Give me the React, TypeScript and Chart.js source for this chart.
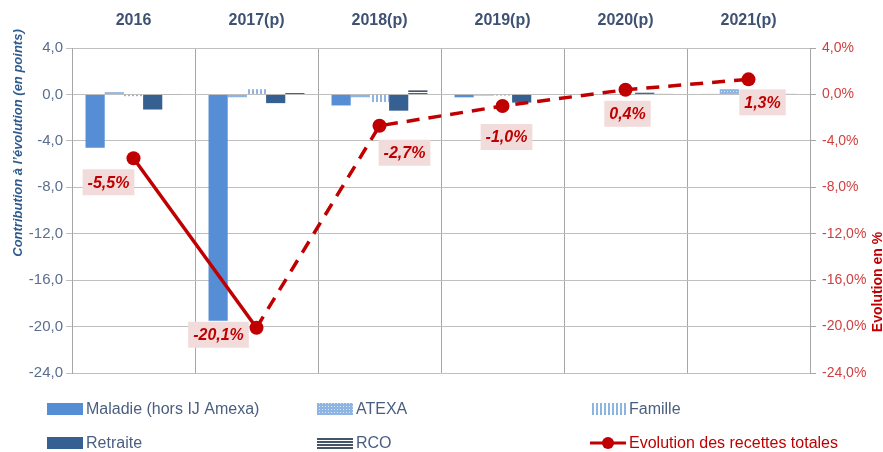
import React, { useEffect, useRef } from "react";
import { Chart, registerables } from "chart.js";

Chart.register(...registerables);

const categories = ["2016", "2017(p)", "2018(p)", "2019(p)", "2020(p)", "2021(p)"];
const maladie = [-4.6, -19.5, -0.95, -0.25, 0.0, 0.05];
const atexa = [0.2, -0.25, -0.25, -0.1, 0.0, 0.45];
const famille = [-0.15, 0.45, -0.65, -0.1, 0.0, 0.0];
const retraite = [-1.3, -0.75, -1.4, -0.7, 0.15, 0.0];
const rco = [-0.1, 0.2, 0.35, 0.0, 0.05, 0.05];
const evolution = [-5.5, -20.1, -2.7, -1.0, 0.4, 1.3];
const yTicks = [4, 0, -4, -8, -12, -16, -20, -24];

const FONT = "'Liberation Sans', Arial, sans-serif";
const RED = "#C00000";
const SLATE = "#4A5E80";
const labelOffsets = [
  [-25, 24],
  [-38, 7],
  [25, 27],
  [4, 31],
  [2, 24],
  [14, 23],
];

function makePattern(w: number, h: number, draw: (c: CanvasRenderingContext2D) => void) {
  const cv = document.createElement("canvas");
  cv.width = w;
  cv.height = h;
  const c = cv.getContext("2d")!;
  draw(c);
  return c.createPattern(cv, "repeat")!;
}

const fmt = (v: number) => v.toFixed(1).replace(".", ",");

export default function App() {
  const ref = useRef<HTMLCanvasElement>(null);
  useEffect(() => {
    document.body.style.margin = "0";
    const ctx = ref.current!.getContext("2d")!;
    const atexaPat = makePattern(3, 3, (c) => {
      c.fillStyle = "#8EB4E3";
      c.fillRect(0, 0, 3, 3);
      c.fillStyle = "#DCE6F2";
      c.fillRect(1, 1, 1, 1);
    });
    const famillePat = makePattern(4, 4, (c) => {
      c.fillStyle = "#ffffff";
      c.fillRect(0, 0, 4, 4);
      c.fillStyle = "#8EB4E3";
      c.fillRect(0, 0, 2, 4);
    });
    const rcoPat = makePattern(3, 3, (c) => {
      c.fillStyle = "#ffffff";
      c.fillRect(0, 0, 3, 3);
      c.fillStyle = "#44546A";
      c.fillRect(0, 0, 3, 2);
    });
    const legendItems = [
      { label: "Maladie (hors IJ Amexa)", fill: "#558ED5", x: 47, y: 409 },
      { label: "ATEXA", fill: atexaPat, x: 317, y: 409 },
      { label: "Famille", fill: famillePat, x: 590, y: 409 },
      { label: "Retraite", fill: "#376092", x: 47, y: 443 },
      { label: "RCO", fill: rcoPat, x: 317, y: 443 },
    ];

    const custom = {
      id: "custom",
      afterDatasetsDraw(chart: any) {
        const c = chart.ctx;
        const meta = chart.getDatasetMeta(5);
        c.save();
        c.font = `italic bold 16px ${FONT}`;
        c.textAlign = "center";
        c.textBaseline = "middle";
        meta.data.forEach((pt: any, i: number) => {
          const txt = fmt(evolution[i]) + "%";
          const w = c.measureText(txt).width + 10;
          const h = 26;
          const cx = pt.x + labelOffsets[i][0];
          const cy = pt.y + labelOffsets[i][1];
          c.fillStyle = "#F2DCDB";
          c.fillRect(cx - w / 2, cy - h / 2, w, h);
          c.fillStyle = RED;
          c.fillText(txt, cx, cy + 1);
        });
        c.restore();
      },
      afterDraw(chart: any) {
        const c = chart.ctx;
        c.save();
        c.translate(18, 143);
        c.rotate(-Math.PI / 2);
        c.font = `italic bold 13px ${FONT}`;
        c.fillStyle = "#2E5A8E";
        c.textAlign = "center";
        c.textBaseline = "middle";
        c.fillText("Contribution à l’évolution (en points)", 0, 0);
        c.restore();
        c.save();
        c.translate(878, 282);
        c.rotate(-Math.PI / 2);
        c.font = `bold 14px ${FONT}`;
        c.fillStyle = RED;
        c.textAlign = "center";
        c.textBaseline = "middle";
        c.fillText("Evolution en %", 0, 0);
        c.restore();
        c.save();
        c.font = `16px ${FONT}`;
        c.textBaseline = "middle";
        legendItems.forEach((it) => {
          c.fillStyle = it.fill as any;
          c.fillRect(it.x, it.y - 6, 36, 12);
          c.fillStyle = SLATE;
          c.fillText(it.label, it.x + 39, it.y + 1);
        });
        const lx = 590,
          ly = 443;
        c.strokeStyle = RED;
        c.lineWidth = 3;
        c.beginPath();
        c.moveTo(lx, ly);
        c.lineTo(lx + 36, ly);
        c.stroke();
        c.fillStyle = RED;
        c.beginPath();
        c.arc(lx + 18, ly, 6, 0, Math.PI * 2);
        c.fill();
        c.fillText("Evolution des recettes totales", lx + 39, ly + 1);
        c.restore();
      },
    };

    const barDs = (label: string, data: number[], bg: any) => ({
      type: "bar" as const,
      label,
      data,
      backgroundColor: bg,
      borderWidth: 0,
      yAxisID: "y",
      categoryPercentage: 0.78,
      barPercentage: 1.0,
      order: 1,
    });

    const chart = new Chart(ctx, {
      type: "bar",
      data: {
        labels: categories,
        datasets: [
          barDs("Maladie (hors IJ Amexa)", maladie, "#558ED5"),
          barDs("ATEXA", atexa, atexaPat),
          barDs("Famille", famille, famillePat),
          barDs("Retraite", retraite, "#376092"),
          barDs("RCO", rco, rcoPat),
          {
            type: "line" as const,
            label: "Evolution des recettes totales",
            data: evolution,
            yAxisID: "y2",
            borderColor: RED,
            backgroundColor: RED,
            borderWidth: 3.5,
            pointRadius: 7,
            pointBackgroundColor: RED,
            pointBorderWidth: 0,
            order: 0,
            segment: {
              borderDash: (c: any) => (c.p0DataIndex >= 1 ? [13, 9] : undefined),
            },
          } as any,
        ],
      },
      options: {
        responsive: false,
        animation: false,
        devicePixelRatio: 1,
        layout: { padding: { top: 0, left: 0, right: 0, bottom: 79 } },
        plugins: { legend: { display: false }, tooltip: { enabled: false } },
        scales: {
          x: {
            position: "top",
            grid: { color: "#A6A6A6", drawTicks: false, offset: true },
            border: { display: false },
            ticks: {
              padding: 18,
              color: "#3F5273",
              font: { family: FONT, size: 16, weight: "bold" },
            },
            afterFit: (s: any) => {
              s.height = 48;
            },
          },
          y: {
            position: "left",
            min: -24,
            max: 4,
            afterBuildTicks: (s: any) => {
              s.ticks = yTicks.map((v) => ({ value: v }));
            },
            grid: { color: "#BFBFBF", tickLength: 6 },
            border: { display: true, color: "#A6A6A6" },
            ticks: {
              padding: 3,
              color: "#5A6E8E",
              font: { family: FONT, size: 15 },
              callback: (v: any) => fmt(Number(v)),
            },
            afterFit: (s: any) => {
              s.width = 72;
            },
          },
          y2: {
            position: "right",
            min: -24,
            max: 4,
            afterBuildTicks: (s: any) => {
              s.ticks = yTicks.map((v) => ({ value: v }));
            },
            grid: { drawOnChartArea: false, color: "#A6A6A6", tickLength: 6 },
            border: { display: true, color: "#A6A6A6" },
            ticks: {
              padding: 6,
              color: "#D04040",
              font: { family: FONT, size: 14 },
              callback: (v: any) => fmt(Number(v)) + "%",
            },
            afterFit: (s: any) => {
              s.width = 73;
            },
          },
        },
      } as any,
      plugins: [custom],
    });
    return () => chart.destroy();
  }, []);
  return (
    <div style={{ width: 883, height: 452, background: "#fff" }}>
      <canvas ref={ref} width={883} height={452} style={{ display: "block" }} />
    </div>
  );
}
